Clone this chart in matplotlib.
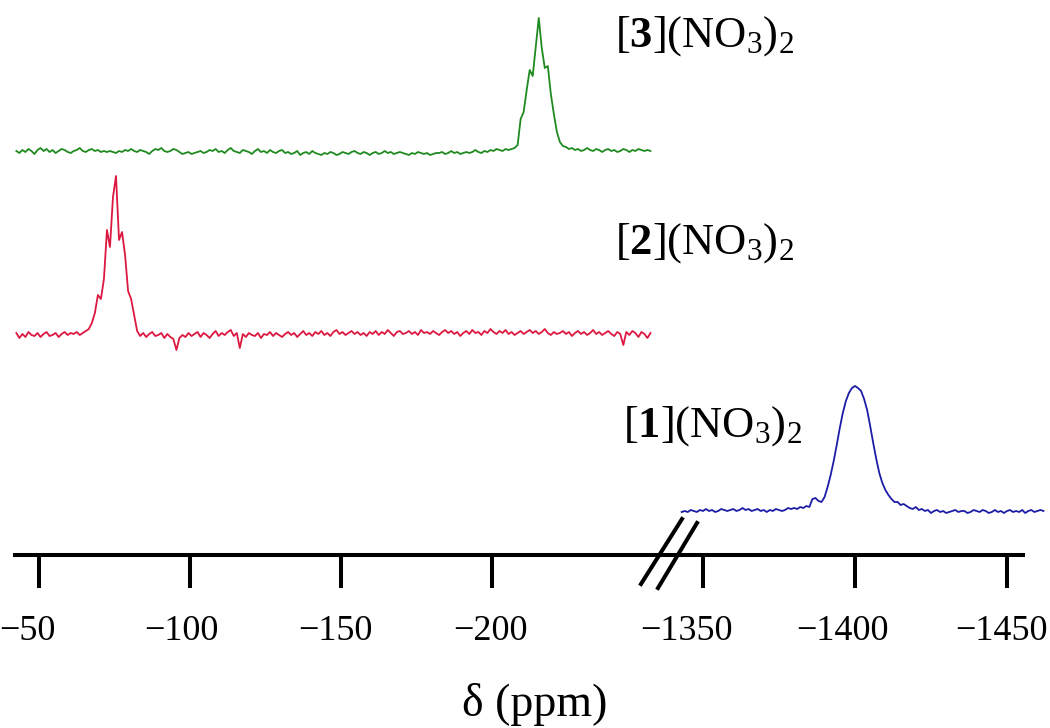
import matplotlib

matplotlib.use("Agg")
import matplotlib.pyplot as plt
import numpy as np
from matplotlib.lines import Line2D
from matplotlib.transforms import ScaledTranslation

plt.rcParams["font.family"] = ["Liberation Serif", "DejaVu Serif"]
plt.rcParams["mathtext.fontset"] = "custom"
plt.rcParams["mathtext.rm"] = "Liberation Serif"
plt.rcParams["mathtext.bf"] = "Liberation Serif:bold"
plt.rcParams["mathtext.it"] = "Liberation Serif:italic"

# --- data -------------------------------------------------------------------
# chemical-shift sampling of the two windows of the broken axis
LEFT_PPM = np.arange(-42.5, -253.0, -1.0)      # 211 points
RIGHT_PPM = np.arange(-1343.0, -1463.0, -1.0)  # 120 points

# intensities relative to each baseline (arbitrary units)
SPEC3 = [
    1, -1, 2, 0, 3, 1, -2, 2, 4, 1,
    3, 0, 2, -1, 1, 3, 2, 0, -1, 1,
    2, 4, 1, 0, 2, 3, 1, 2, 0, 1,
    0, 1, 0, -1, 1, 0, 2, 1, 3, 1,
    0, 2, 1, 0, -2, 1, 3, 2, 4, 1,
    0, 1, 3, 2, 0, -2, -1, 0, -2, -1,
    0, 1, -1, 0, 2, 1, 3, 0, 1, -1,
    2, 4, 1, 0, -1, 2, 1, 0, -2, 1,
    3, 0, 1, -1, 2, 0, -1, 1, 2, -1,
    0, -2, -1, 1, -3, -1, 0, -2, 1, -1,
    -2, -3, -1, -2, 0, -1, -3, -2, 0, -1,
    -2, 0, 1, -1, -2, 0, -1, -3, -1, 0,
    -2, -1, 1, -1, 0, -2, -1, 0, -1, -2,
    -3, -1, -2, 0, -1, -2, -1, -3, -2, -1,
    -1, 0, -2, -1, 1, -1, 0, -2, -1, 0,
    -1, 0, 2, 0, -1, 1, 0, 2, 1, 3,
    2, 1, 3, 2, 3, 4, 7, 33, 40, 62,
    82, 76, 105, 134, 104, 84, 86, 58, 38, 20,
    10, 6, 5, 3, 4, 2, 3, 1, 2, 4,
    2, 1, 3, 2, 0, 2, 3, 1, 2, 0,
    1, 3, 2, 0, 2, 1, 3, 2, 1, 2,
    1,
]
SPEC2 = [
    2, -3, 1, -2, 3, 0, -1, 2, -2, 1,
    3, -1, 0, 2, -2, 1, 3, 0, 2, 1,
    3, 0, 2, 4, 6, 12, 22, 40, 36, 56,
    105, 88, 138, 159, 95, 103, 80, 44, 36, 20,
    4, -1, 2, -2, 1, 3, -1, 0, 2, -3,
    1, -2, -4, -15, -3, 0, -2, 2, -1, 1,
    3, -2, 2, 0, -3, 1, 4, -1, 2, 0,
    3, 5, -1, 2, -13, 1, -2, 2, 0, -1,
    2, -3, 1, 0, 3, -1, 2, 0, -2, 1,
    3, 0, 2, -2, 1, 4, 0, 2, -1, 3,
    1, 4, 0, 2, -1, 3, 5, 1, 3, 0,
    2, 4, 1, 3, 0, 2, -1, 3, 1, 4,
    0, 3, 1, 5, 2, -1, 3, 4, 1, 2,
    4, 1, 3, 0, 5, 2, 3, 1, 4, 2,
    0, 3, 5, 2, 4, 1, 3, -1, 2, 4,
    1, 5, 2, 3, 0, 4, 2, 6, 3, 1,
    4, 2, 5, 1, 3, 0, 2, 4, 1, 3,
    5, 2, 4, 1, 3, 6, 2, 0, 3, 1,
    2, 4, 1, 3, -1, 2, 4, 1, 3, 0,
    2, 5, 1, 3, 0, 2, 4, 1, -1, 3,
    1, -10, 3, 0, 4, 2, -2, 3, 1, -3,
    2,
]
SPEC1 = [
    -1, 0, -1, 1, 0, -1, 1, 0, 2, 0,
    1, -1, 0, 2, 1, 0, 1, 2, 0, 1,
    3, 1, 2, 0, 1, 2, 0, 1, -1, 1,
    0, 2, 1, 0, 1, 3, 2, 3, 2, 4,
    3, 5, 4, 12, 13, 10, 9, 14, 24, 36,
    50, 66, 83, 98, 110, 118, 123, 125, 123, 120,
    112, 101, 85, 68, 52, 38, 28, 21, 16, 12,
    9, 9, 6, 7, 5, 3, 2, 4, 1, 2,
    0, 1, -2, 0, 1, -1, 0, -2, -1, 0,
    1, -1, 0, 0, -2, -1, 1, 0, -1, 1,
    0, -2, -1, 1, -1, 0, -2, 0, 1, -1,
    0, -1, 1, -2, 0, 1, -1, 0, 1, 0,
]
LABELS = [r"$[\mathbf{3}](\mathrm{NO}_3)_2$",
          r"$[\mathbf{2}](\mathrm{NO}_3)_2$",
          r"$[\mathbf{1}](\mathrm{NO}_3)_2$"]
LEFT_TICKS = [-50, -100, -150, -200]
LEFT_TICKLABELS = ["\u221250", "\u2212100", "\u2212150", "\u2212200"]
RIGHT_TICKS = [-1350, -1400, -1450]
RIGHT_TICKLABELS = ["\u22121350", "\u22121400", "\u22121450"]
XLABEL = "\u03b4 (ppm)"
# ----------------------------------------------------------------------------

GREEN = "#1f8a1f"
RED = "#dc1840"
BLUE = "#1c1ca6"

W, H = 1050, 728


def rect(x0, x1, ytop, ybot):
    return [x0 / W, 1 - ybot / H, (x1 - x0) / W, (ybot - ytop) / H]


fig = plt.figure(figsize=(W / 100, H / 100), dpi=100)
fig.patch.set_facecolor("white")

axL = fig.add_axes(rect(15, 668, 0, 555))
axR = fig.add_axes(rect(668, 1045, 0, 555))

axL.plot(LEFT_PPM, np.array(SPEC3) + 403, color=GREEN, lw=1.3)
axL.plot(LEFT_PPM, np.array(SPEC2) + 220, color=RED, lw=1.3)
axR.plot(RIGHT_PPM, np.array(SPEC1) + 44, color=BLUE, lw=1.3)

axL.set_xlim(-42.05, -258.3)
axR.set_xlim(-1338.5, -1462.5)
axL.set_xticks(LEFT_TICKS, LEFT_TICKLABELS)
axR.set_xticks(RIGHT_TICKS, RIGHT_TICKLABELS)
axR.spines["bottom"].set_bounds(-1338.5, -1455.3)

for ax in (axL, axR):
    ax.set_ylim(0, 555)
    ax.set_yticks([])
    ax.patch.set_alpha(0)
    for s in ("top", "left", "right"):
        ax.spines[s].set_visible(False)
    ax.spines["bottom"].set_linewidth(2.9)
    ax.tick_params(axis="x", direction="out", length=24, width=2.9,
                   pad=19, labelsize=26)

# tick labels in the original sit a little left of their ticks
for ax, shifts in ((axL, (-12, -9, -6, -2)), (axR, (-17, -13, -6))):
    for lab, dx in zip(ax.get_xticklabels(), shifts):
        lab.set_transform(lab.get_transform()
                          + ScaledTranslation(dx / 100, 0, fig.dpi_scale_trans))

# axis-break marks
for (x0, y0), (x1, y1) in (((641, 584), (682, 519)), ((658, 588), (697, 523))):
    fig.add_artist(Line2D([x0 / W, x1 / W], [1 - y0 / H, 1 - y1 / H],
                          transform=fig.transFigure, color="black", lw=2.9))

# compound labels
for lab, (x, y) in zip(LABELS, ((615, 47), (615, 254), (623, 437))):
    fig.text(x / W, 1 - y / H, lab, fontsize=32, ha="left", va="baseline")

fig.text(535 / W, 1 - 705 / H, XLABEL, fontsize=33, ha="center", va="center")

fig.savefig("out.png", dpi=100, facecolor="white")
